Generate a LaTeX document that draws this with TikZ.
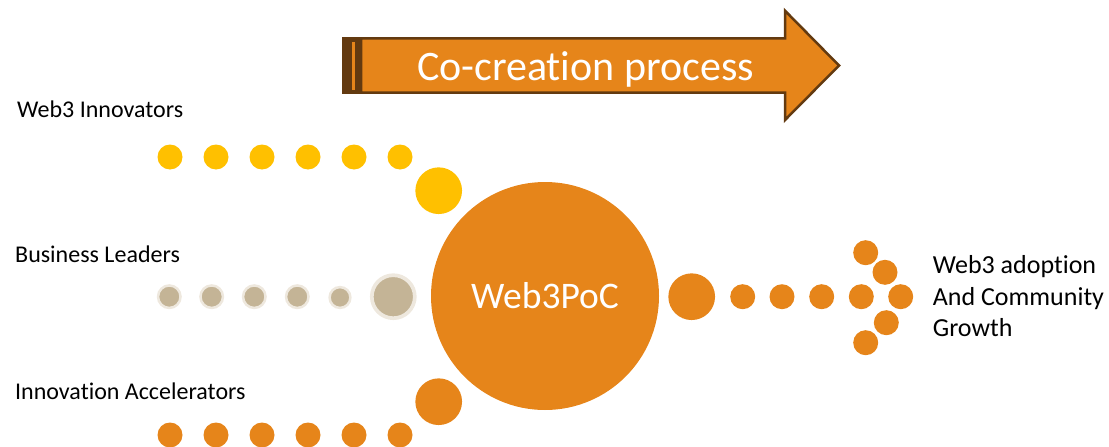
\documentclass[tikz,border=0pt]{standalone}
\usepackage{fontspec}
\setmainfont{Carlito}[Ligatures=CommonOff]
\definecolor{pocorange}{HTML}{E6851A}
\definecolor{pocyellow}{HTML}{FFC000}
\definecolor{pocbeige}{HTML}{C4B496}
\definecolor{pocring}{HTML}{EEE8DE}
\definecolor{pocbrown}{HTML}{633A10}
\tikzset{
	ydot/.style={circle, fill=pocyellow, inner sep=0pt, minimum size=25pt},
	odot/.style={circle, fill=pocorange, inner sep=0pt, minimum size=25pt},
	bdot/.style={circle, fill=pocbeige, draw=pocring, line width=2.5pt, inner sep=0pt, minimum size=22.5pt},
	bighub/.style={minimum size=46.7pt},
	lbl/.style={anchor=base west, inner sep=0pt, font=\fontsize{24}{29}\selectfont},
}
\begin{document}
\begin{tikzpicture}[x=1pt, y=-1pt]
	\useasboundingbox (0,0) rectangle (1109,447);

	% process arrow
	\draw[pocbrown, line width=2.5pt, fill=pocorange] (361,38.3) -- (785,38.3) -- (785,10.7) -- (839,65.5) -- (785,120) -- (785,92.7) -- (361,92.7) -- cycle;
	\fill[pocbrown] (342.3,37.3) rectangle (361,93.7);
	\fill[pocorange] (351.7,41.7) rectangle (354.7,90);
	\node[font=\fontsize{42}{50}\selectfont, text=white, anchor=base] (proc) at (585.5,80) {Co-creation process};

	% the three groups
	\node[lbl] (innov) at (17,117.3) {Web3 Innovators};
	\node[lbl] (biz) at (15,262.7) {Business Leaders};
	\node[lbl] (accel) at (15,399) {Innovation Accelerators};

	\foreach \x [count=\i] in {170,216,262,308,354,400}
		\node[ydot] (y\i) at (\x,157) {};
	\node[ydot, bighub] (yhub) at (438.7,190.7) {};

	\foreach \x [count=\i] in {169.3,211.7,254.3,297.3}
		\node[bdot] (b\i) at (\x,296.7) {};
	\node[bdot, minimum size=20.8pt] (b5) at (340,297.5) {};
	\node[bdot, minimum size=43pt, line width=3.7pt] (bhub) at (393.3,296.7) {};

	\foreach \x [count=\i] in {170,216,262,308,354,400}
		\node[odot] (o\i) at (\x,435) {};
	\node[odot, bighub] (ohub) at (438.7,401.7) {};

	% centre
	\node[circle, fill=pocorange, inner sep=0pt, minimum size=228pt, text=white, font=\fontsize{37.5}{40}\selectfont] (poc) at (545,296) {Web3PoC};

	% outcome
	\node[odot, bighub] (rhub) at (691.7,296.7) {};
	\foreach \x [count=\i] in {742.7,782,821.7,861.3,900.7}
		\node[odot] (r\i) at (\x,296.7) {};
	\node[odot] (up1) at (865.7,252.7) {};
	\node[odot] (up2) at (885,272.3) {};
	\node[odot] (dn1) at (886.3,322.7) {};
	\node[odot] (dn2) at (865.7,342.7) {};

	\node[anchor=base west, align=left, inner sep=0pt, font=\fontsize{26}{31.7}\selectfont] (growth) at (932.7,336.7) {Web3 adoption\\And Community\\Growth};
\end{tikzpicture}
\end{document}
